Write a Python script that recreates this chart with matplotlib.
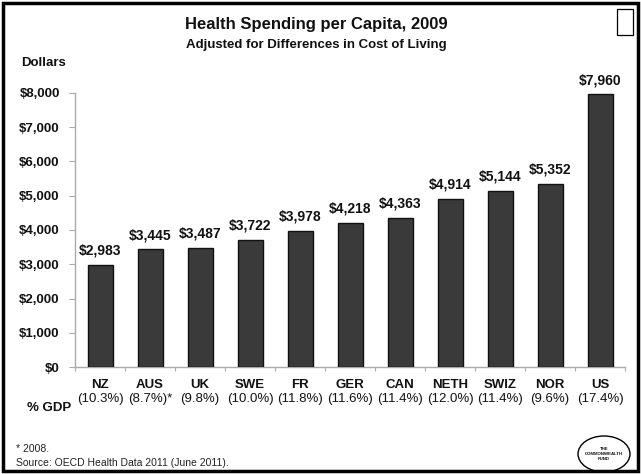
import matplotlib
matplotlib.use("Agg")
import matplotlib.pyplot as plt
from matplotlib.patches import Rectangle, Ellipse

plt.rcParams["font.family"] = ["Liberation Sans", "DejaVu Sans"]

countries = ["NZ", "AUS", "UK", "SWE", "FR", "GER", "CAN", "NETH", "SWIZ", "NOR", "US"]
gdp_share = ["(10.3%)", "(8.7%)*", "(9.8%)", "(10.0%)", "(11.8%)", "(11.6%)",
             "(11.4%)", "(12.0%)", "(11.4%)", "(9.6%)", "(17.4%)"]
spending = [2983, 3445, 3487, 3722, 3978, 4218, 4363, 4914, 5144, 5352, 7960]
y_ticks = [0, 1000, 2000, 3000, 4000, 5000, 6000, 7000, 8000]

W, H = 641, 474
fig = plt.figure(figsize=(W / 100, H / 100), dpi=100)
fig.patch.set_facecolor("white")

ax = fig.add_axes([75 / W, 1 - 367 / H, 550 / W, 274 / H])
x = list(range(len(countries)))
ax.bar(x, spending, width=0.5, color="#3a3a3a", edgecolor="#111111", linewidth=1.0, zorder=3)

for xi, v in zip(x, spending):
    ax.annotate(f"${v:,}", (xi, v), xytext=(0, 5), textcoords="offset points",
                ha="center", va="bottom", fontsize=10, fontweight="bold", color="#111111")

ax.set_xlim(-0.5, len(countries) - 0.5)
ax.set_ylim(0, 8000)
ax.set_yticks(y_ticks)
ax.set_yticklabels([f"${t:,}" for t in y_ticks], fontsize=9.5, fontweight="bold", color="#111111")
ax.tick_params(axis="y", length=4, color="#aaaaaa", pad=7)

# category boundaries carry the x ticks; names sit underneath as text
ax.set_xticks([i - 0.5 for i in range(len(countries) + 1)])
ax.set_xticklabels([])
ax.tick_params(axis="x", length=3, color="#aaaaaa", direction="out")
for xi, name, pct in zip(x, countries, gdp_share):
    ax.text(xi, -0.045, name, transform=ax.get_xaxis_transform(), ha="center", va="top",
            fontsize=9.5, fontweight="bold", color="#111111")
    ax.text(xi, -0.095, pct, transform=ax.get_xaxis_transform(), ha="center", va="top",
            fontsize=9.5, color="#111111")

for side in ["top", "right"]:
    ax.spines[side].set_visible(False)
for side in ["left", "bottom"]:
    ax.spines[side].set_color("#aaaaaa")
    ax.spines[side].set_linewidth(1.0)

# titles and side labels
fig.text(316 / W, 1 - 25 / H, "Health Spending per Capita, 2009", ha="center", va="center",
         fontsize=12, fontweight="bold", color="#111111")
fig.text(316 / W, 1 - 45 / H, "Adjusted for Differences in Cost of Living", ha="center", va="center",
         fontsize=9.5, fontweight="bold", color="#111111")
fig.text(21 / W, 1 - 63 / H, "Dollars", ha="left", va="center", fontsize=9.5,
         fontweight="bold", color="#111111")
fig.text(27 / W, 1 - 408 / H, "% GDP", ha="left", va="center", fontsize=9.5,
         fontweight="bold", color="#111111")
fig.text(16 / W, 1 - 449 / H, "* 2008.", ha="left", va="center", fontsize=7.5, color="#222222")
fig.text(16 / W, 1 - 463 / H, "Source: OECD Health Data 2011 (June 2011).", ha="left",
         va="center", fontsize=7.5, color="#222222")

# outer frame and the small box at the top right
fig.add_artist(Rectangle((3 / W, 3 / H), 635 / W, 468 / H, transform=fig.transFigure,
                         fill=False, edgecolor="black", linewidth=2.5))
fig.add_artist(Rectangle((617 / W, 1 - 35 / H), 16 / W, 26 / H, transform=fig.transFigure,
                         fill=False, edgecolor="black", linewidth=0.9))

# Commonwealth Fund seal
fig.add_artist(Ellipse((604 / W, 1 - 454 / H), 52 / W, 36 / H, transform=fig.transFigure,
                       fill=False, edgecolor="black", linewidth=1.0))
fig.text(604 / W, 1 - 454 / H, "THE\nCOMMONWEALTH\nFUND", ha="center", va="center",
         fontsize=3.2, fontweight="bold", linespacing=1.3, color="#111111")

fig.savefig("out.png", dpi=100)
